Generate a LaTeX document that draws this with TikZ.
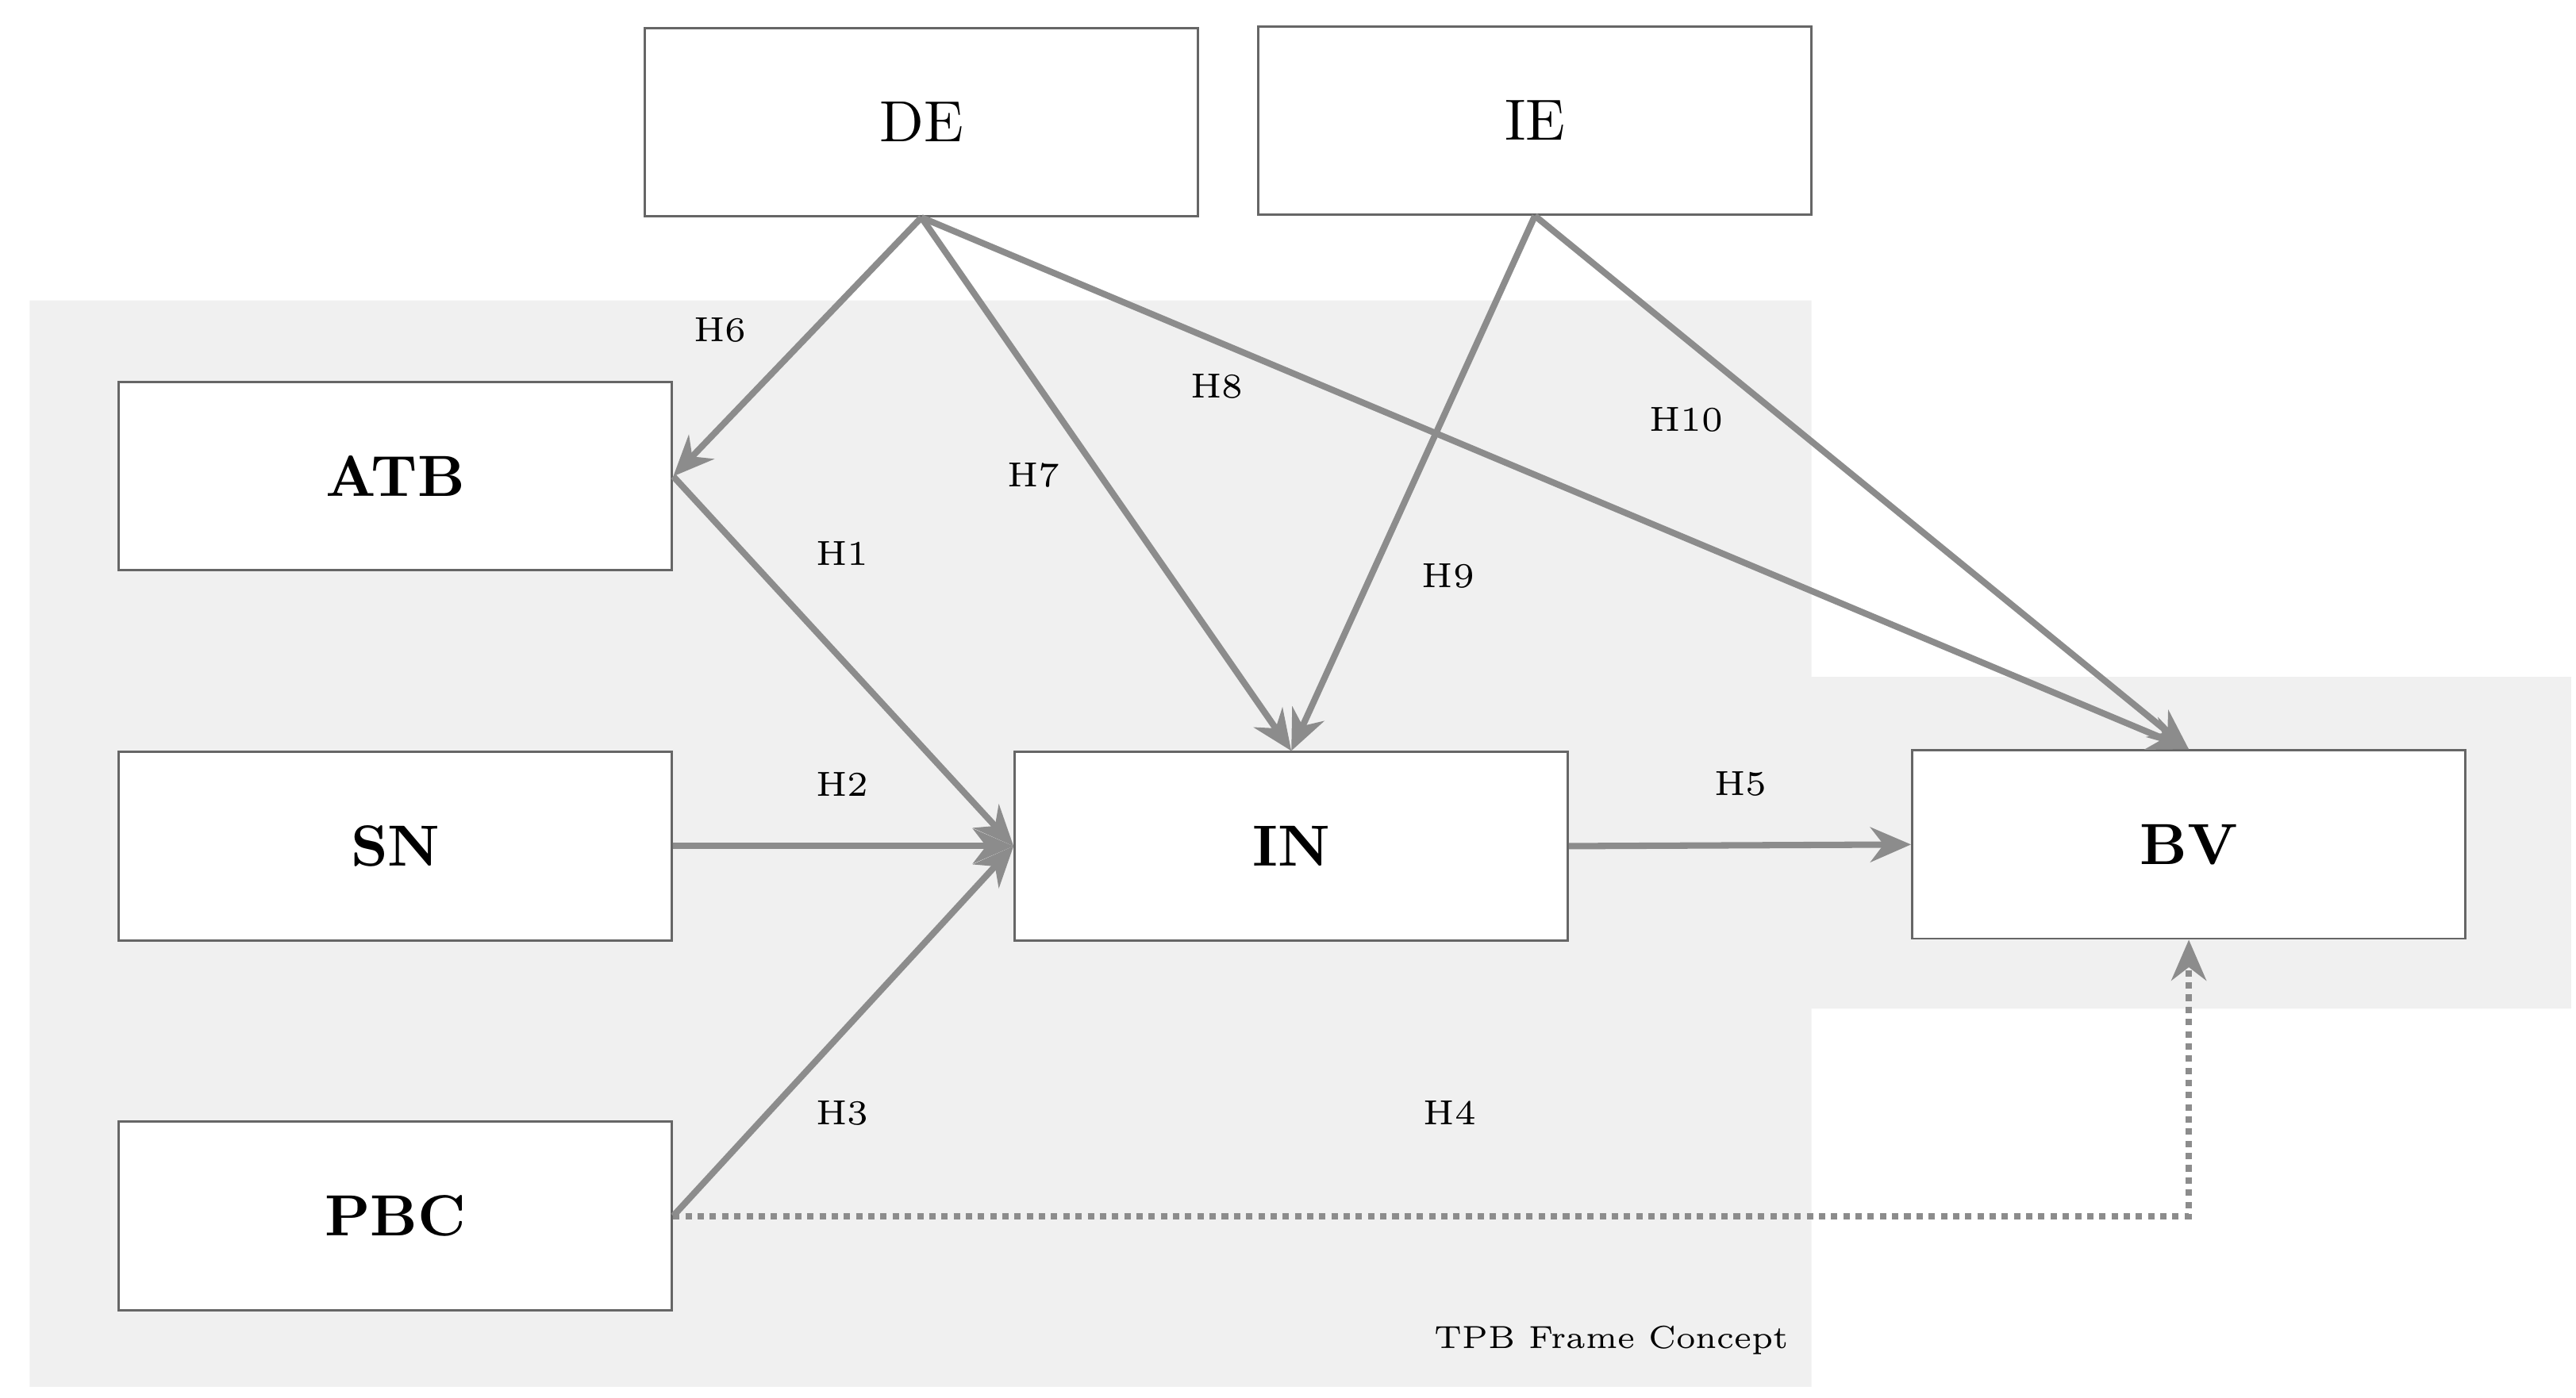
\documentclass[tikz,border=0pt]{standalone}
\usetikzlibrary{arrows.meta}
\begin{document}
\begin{tikzpicture}[x=1cm,y=-1cm, >={Stealth[length=7pt,width=6pt]},
    box/.style={draw=black!60, fill=white, minimum width=3.35cm, minimum height=1.14cm, inner sep=0pt, font=\normalsize},
    hyp/.style={font=\fontsize{6}{7}\selectfont},
    link/.style={->, draw=black!45, line width=1.1pt}]
    \useasboundingbox (0,0) rectangle (15.6,8.463);
    % Hintergrund
    \fill[black!6] (0.18,1.82) -- (10.97,1.82) -- (10.97,4.10) -- (15.57,4.10) -- (15.57,6.11)
        -- (10.97,6.11) -- (10.97,8.40) -- (0.18,8.40) -- cycle;
    % Knoten
    \node[box] (DE) at (5.58,0.74) {DE};
    \node[box] (IE) at (9.295,0.73) {IE};
    \node[box] (ATB) at (2.395,2.885) {\textbf{ATB}};
    \node[box] (SN) at (2.395,5.125) {\textbf{SN}};
    \node[box] (PBC) at (2.395,7.365) {\textbf{PBC}};
    \node[box] (IN) at (7.82,5.125) {\textbf{IN}};
    \node[box] (BV) at (13.255,5.115) {\textbf{BV}};
    % Pfeile
    \draw[link] (DE.south) -- (ATB.east);
    \draw[link] (DE.south) -- (IN.north);
    \draw[link] (DE.south) -- (BV.north);
    \draw[link] (IE.south) -- (IN.north);
    \draw[link] (IE.south) -- (BV.north);
    \draw[link] (ATB.east) -- (IN.west);
    \draw[link] (SN.east) -- (IN.west);
    \draw[link] (PBC.east) -- (IN.west);
    \draw[link] (IN.east) -- (BV.west);
    \draw[link, densely dotted] (PBC.east) -| (BV.south);
    % Beschriftungen
    \node[hyp] (h6) at (4.36,2.00) {H6};
    \node[hyp] (h8) at (7.37,2.34) {H8};
    \node[hyp] (h10) at (10.21,2.54) {H10};
    \node[hyp] (h7) at (6.26,2.88) {H7};
    \node[hyp] (h1) at (5.10,3.35) {H1};
    \node[hyp] (h9) at (8.77,3.49) {H9};
    \node[hyp] (h2) at (5.10,4.75) {H2};
    \node[hyp] (h5) at (10.54,4.75) {H5};
    \node[hyp] (h3) at (5.10,6.74) {H3};
    \node[hyp] (h4) at (8.78,6.74) {H4};
    \node[font=\fontsize{5.5}{6}\selectfont] (tpb) at (9.76,8.12) {TPB Frame Concept};
\end{tikzpicture}
\end{document}
